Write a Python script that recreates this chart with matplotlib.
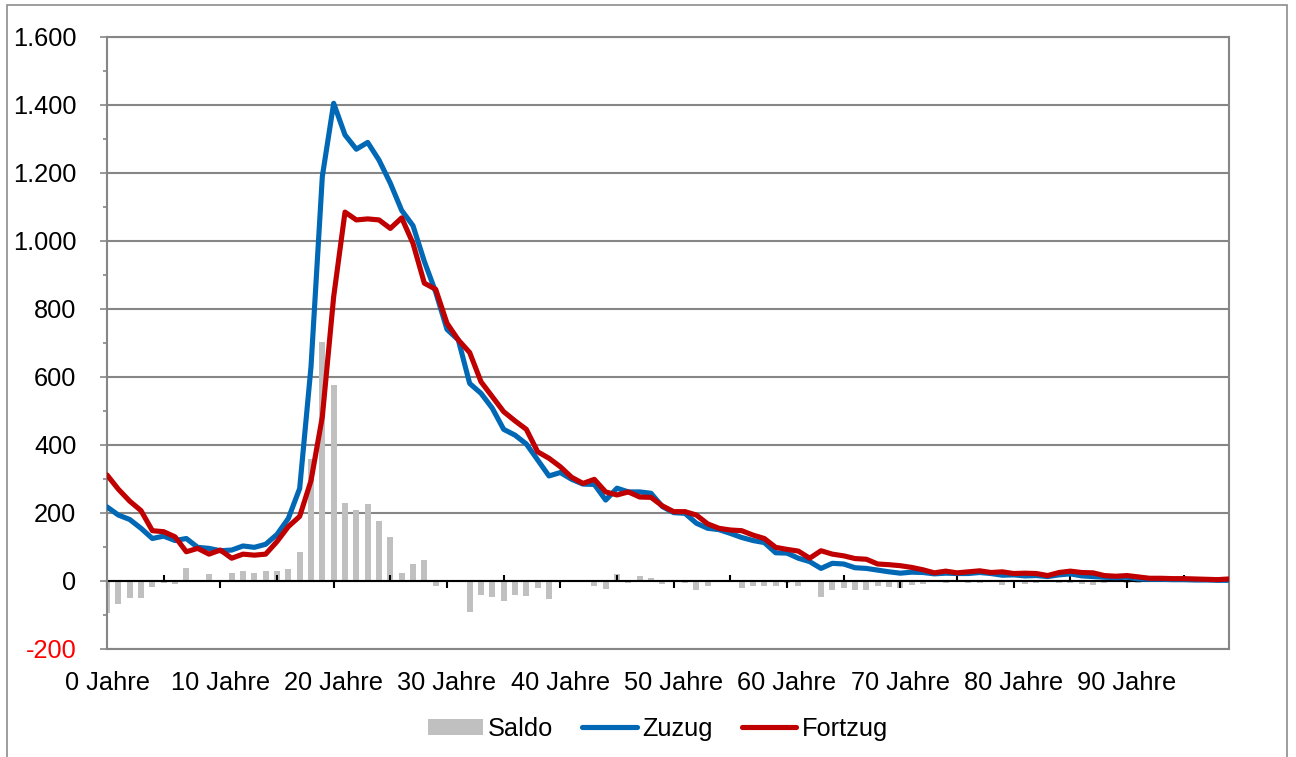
import matplotlib
matplotlib.use("Agg")
import matplotlib.pyplot as plt
from matplotlib.patches import Rectangle
from matplotlib.ticker import FuncFormatter, MultipleLocator
import numpy as np

plt.rcParams['font.family'] = ['Liberation Sans', 'DejaVu Sans']

ages = list(range(100))
tick_ages = list(range(0, 100, 10))
tick_labels = [f"{a} Jahre" for a in tick_ages]

zuzug = [218, 194, 181, 155, 125, 132, 119, 125, 99, 96,
         89, 91, 103, 99, 108, 137, 184, 272, 630, 1190,
         1405, 1312, 1270, 1290, 1238, 1170, 1090, 1045, 940, 850,
         740, 709, 581, 552, 508, 446, 429, 403, 356, 309,
         319, 299, 285, 284, 238, 273, 262, 262, 258, 219,
         201, 199, 170, 155, 151, 140, 128, 119, 113, 83,
         82, 67, 57, 37, 52, 50, 39, 37, 32, 27,
         23, 26, 25, 21, 23, 22, 22, 25, 22, 17,
         18, 15, 16, 13, 18, 21, 15, 13, 11, 10,
         11, 6, 5, 5, 4, 4, 3, 3, 2, 2]

fortzug = [312, 270, 235, 207, 148, 145, 130, 86, 96, 79,
           91, 67, 79, 76, 79, 116, 160, 190, 295, 483,
           836, 1085, 1062, 1065, 1062, 1037, 1068, 993, 876, 858,
           758, 709, 672, 586, 542, 498, 471, 446, 380, 361,
           336, 305, 287, 299, 262, 253, 262, 247, 246, 221,
           204, 204, 194, 168, 155, 150, 148, 135, 125, 99,
           93, 88, 67, 89, 79, 74, 66, 64, 50, 48,
           45, 40, 33, 24, 29, 24, 27, 30, 25, 27,
           22, 23, 22, 16, 25, 29, 25, 24, 16, 14,
           16, 12, 8, 8, 7, 7, 6, 5, 4, 6]

saldo = [-93, -69, -49, -50, -19, -7, -10, 37, 2, 20,
         -1, 25, 28, 24, 28, 28, 35, 86, 358, 704,
         576, 228, 209, 226, 177, 130, 24, 50, 62, -15,
         -3, 0, -90, -40, -46, -58, -40, -43, -22, -52,
         -4, -2, 0, -15, -24, 20, -6, 14, 10, -10,
         -3, -6, -27, -14, 4, 2, -20, -15, -16, -16,
         -5, -16, -3, -48, -25, -21, -25, -26, -16, -18,
         -22, -12, -8, -3, -6, -2, -5, -5, -3, -11,
         -4, -8, -6, -3, -7, -6, -10, -11, -5, -4,
         -5, -6, -3, -3, -3, -3, -2, -2, -1, -4]

GRID = '#868686'
FS = 18.3

fig = plt.figure(figsize=(12.96, 7.57), dpi=100)
ax = fig.add_axes([107/1296, 1-649/757, (1229-107)/1296, (649-37)/757])

h_bar = ax.bar(ages, saldo, width=0.55, color='#C0C0C0', zorder=1, label='Saldo')
h_zu, = ax.plot(ages, zuzug, color='#0068B4', lw=3.7, zorder=3, label='Zuzug',
                solid_joinstyle='round', solid_capstyle='round')
h_fo, = ax.plot(ages, fortzug, color='#C00000', lw=3.7, zorder=4, label='Fortzug',
                solid_joinstyle='round', solid_capstyle='round')

ax.set_xlim(0, 99)
ax.set_ylim(-200, 1600)

# y axis
ax.set_yticks(list(range(-200, 1601, 200)))
ax.yaxis.set_minor_locator(MultipleLocator(100))
ax.yaxis.set_major_formatter(FuncFormatter(lambda v, p: f"{int(v):,}".replace(',', '.')))
ax.tick_params(axis='y', which='major', length=5, width=1.2, color=GRID,
               labelsize=FS, pad=17)
ax.tick_params(axis='y', which='minor', length=3, width=1.2, color=GRID)
ax.yaxis.grid(True, which='major', color=GRID, lw=1.5, zorder=0)
ax.set_axisbelow(True)

# x labels at bottom
ax.set_xticks(tick_ages)
ax.set_xticklabels(tick_labels)
ax.tick_params(axis='x', which='both', length=0, labelsize=FS, pad=16)

for s in ax.spines.values():
    s.set_color(GRID)
    s.set_linewidth(1.5)

# zero axis with tick marks
sec = ax.secondary_xaxis(200/1800)
sec.set_xticks(tick_ages)
sec.set_xticklabels([])
sec.xaxis.set_minor_locator(MultipleLocator(5))
sec.tick_params(axis='x', which='major', direction='out', length=5, width=1.5, color='black')
sec.tick_params(axis='x', which='minor', direction='in', length=4.5, width=1.5, color='black')
sec.spines['bottom'].set_color('black')
sec.spines['bottom'].set_linewidth(1.5)
sec.set_zorder(2)

fig.canvas.draw()
for lab in ax.get_yticklabels():
    t = lab.get_text()
    if t.startswith('-') or t.startswith('\u2212'):
        lab.set_color('#FF0000')

leg = fig.legend(handles=[h_bar, h_zu, h_fo], labels=['Saldo', 'Zuzug', 'Fortzug'],
                 loc='center', bbox_to_anchor=(658/1296, 1-729/757), ncol=3,
                 frameon=False, fontsize=FS, handlelength=2.15, handletextpad=0.2,
                 columnspacing=1.15, handleheight=0.6)

fig.patches.append(Rectangle((7/1296, -0.05), (1287-7)/1296, 1-5/757+0.05,
                             transform=fig.transFigure, fill=False,
                             edgecolor='#8C8C8C', lw=1.2))

fig.savefig('out.png', dpi=100)
